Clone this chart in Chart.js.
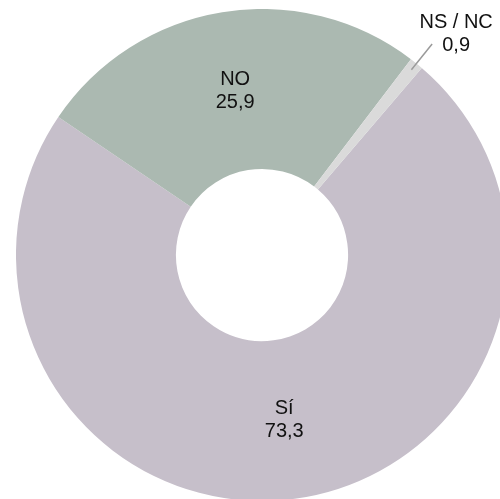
<!DOCTYPE html>
<html>
<head>
<meta charset="utf-8">
<script src="https://cdn.jsdelivr.net/npm/chart.js@4/dist/chart.umd.min.js"></script>
<style>
  html, body { margin: 0; padding: 0; width: 500px; height: 499px; overflow: hidden; background: #fff; }
  #wrap { position: absolute; left: 16px; top: 9px; width: 492px; height: 492px; }
</style>
</head>
<body>
<div id="wrap"><canvas id="chart" width="492" height="492"></canvas></div>
<script>
  const labels = ['Sí', 'NO', 'NS / NC'];
  const values = [73.3, 25.9, 0.9];
  const colors = ['#c6bfca', '#abb9b1', '#dadada'];
  const valueText = ['73,3', '25,9', '0,9'];

  const FONT = '20px "Liberation Sans", Arial, sans-serif';

  // labels inside the ring, plus a leader line for the tiny slice
  const sliceLabels = {
    id: 'sliceLabels',
    afterDatasetsDraw(chart) {
      const ctx = chart.ctx;
      const meta = chart.getDatasetMeta(0);
      ctx.save();
      ctx.font = FONT;
      ctx.fillStyle = '#111';
      ctx.textAlign = 'center';
      ctx.textBaseline = 'middle';
      meta.data.forEach((arc, i) => {
        const p = arc.getProps(['x', 'y', 'startAngle', 'endAngle', 'innerRadius', 'outerRadius'], true);
        const mid = (p.startAngle + p.endAngle) / 2;
        if (values[i] < 3) {
          const r1 = p.outerRadius - 8, r2 = p.outerRadius + 25;
          const x1 = p.x + Math.cos(mid) * r1, y1 = p.y + Math.sin(mid) * r1;
          const x2 = p.x + Math.cos(mid) * r2, y2 = p.y + Math.sin(mid) * r2;
          ctx.strokeStyle = '#9a9a9a';
          ctx.lineWidth = 1.5;
          ctx.beginPath();
          ctx.moveTo(x1, y1);
          ctx.lineTo(x2, y2);
          ctx.stroke();
          const tx = x2 + 24, ty = y2 - 10;
          ctx.fillText(labels[i], tx, ty - 11.5);
          ctx.fillText(valueText[i], tx, ty + 11.5);
        } else {
          const r = (p.innerRadius + p.outerRadius) / 2;
          const cx = p.x + Math.cos(mid) * r, cy = p.y + Math.sin(mid) * r;
          ctx.fillText(labels[i], cx, cy - 11.5);
          ctx.fillText(valueText[i], cx, cy + 11.5);
        }
      });
      ctx.restore();
    }
  };

  new Chart(document.getElementById('chart'), {
    type: 'doughnut',
    data: {
      labels,
      datasets: [{
        data: values,
        backgroundColor: colors,
        borderWidth: 0,
        hoverOffset: 0,
        offset: 0
      }]
    },
    options: {
      responsive: false,
      animation: false,
      events: [],
      cutout: '35%',
      rotation: 40.5,
      layout: { padding: 0 },
      plugins: {
        legend: { display: false },
        tooltip: { enabled: false }
      }
    },
    plugins: [sliceLabels]
  });
</script>
</body>
</html>
